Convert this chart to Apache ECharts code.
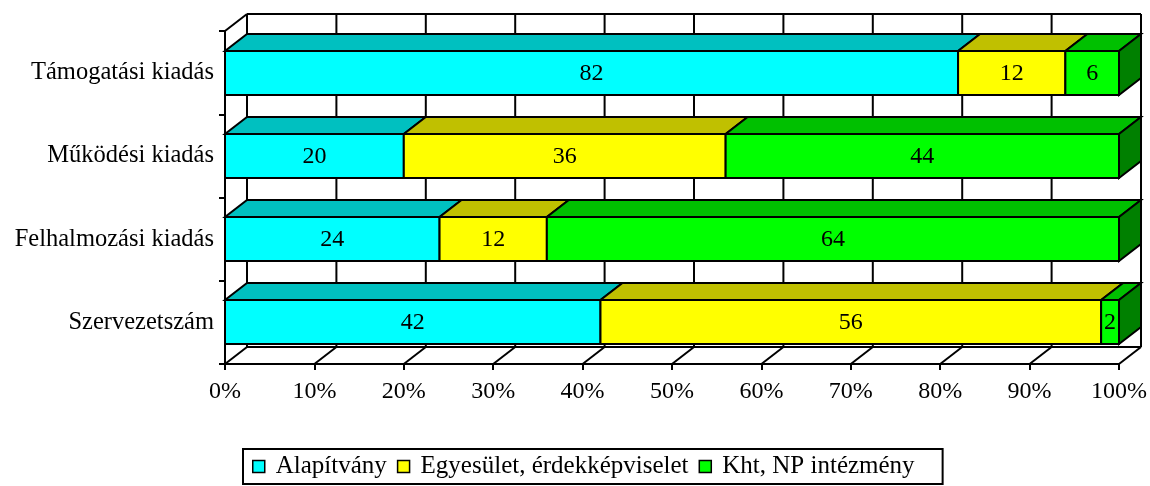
<!DOCTYPE html>
<html>
<head>
<meta charset="utf-8">
<script src="https://cdn.jsdelivr.net/npm/echarts@6/dist/echarts.min.js"></script>
<style>
html,body{margin:0;padding:0;background:#fff;}
#chart{width:1150px;height:486px;}
</style>
</head>
<body>
<div id="chart"></div>
<script>
// ---- data ----
const categories = ['Támogatási kiadás', 'Működési kiadás', 'Felhalmozási kiadás', 'Szervezetszám'];
const seriesNames = ['Alapítvány', 'Egyesület, érdekképviselet', 'Kht, NP intézmény'];
const alapitvany = [82, 20, 24, 42];
const egyesulet = [12, 36, 12, 56];
const kht = [6, 44, 64, 2];
const xTickValues = [0, 10, 20, 30, 40, 50, 60, 70, 80, 90, 100];

// ---- styles ----
const FONT = '"Liberation Serif", "Times New Roman", serif';
const DX = 22, DY = -17, BAR_RATIO = 0.53;
const faceColors = [
  { front: '#00FFFF', top: '#00C0C0', side: '#008080' },
  { front: '#FFFF00', top: '#C0C000', side: '#808000' },
  { front: '#00FF00', top: '#00C000', side: '#008000' }
];
const EDGE = { stroke: '#000', lineWidth: 2, lineJoin: 'miter' };

const valueSets = [alapitvany, egyesulet, kht];

function buildSegments(k) {
  return categories.map((c, i) => {
    let start = 0;
    for (let j = 0; j < k; j++) start += valueSets[j][i];
    return [i, start, start + valueSets[k][i], valueSets[k][i]];
  });
}

function makeRender(k) {
  const col = faceColors[k];
  return function (params, api) {
    const cat = api.value(0), s = api.value(1), e = api.value(2), v = api.value(3);
    const p0 = api.coord([s, cat]);
    const p1 = api.coord([e, cat]);
    const h = Math.round(api.size([0, 1])[1] * BAR_RATIO);
    const y0 = Math.round(p0[1] - h / 2), y1 = y0 + h, x0 = p0[0], x1 = p1[0];
    const children = [
      { type: 'polygon', shape: { points: [[x0, y0], [x1, y0], [x1 + DX, y0 + DY], [x0 + DX, y0 + DY]] },
        style: Object.assign({ fill: col.top }, EDGE) },
      { type: 'rect', shape: { x: x0, y: y0, width: x1 - x0, height: h },
        style: Object.assign({ fill: col.front }, EDGE) }
    ];
    if (e >= 99.999) {
      children.push({ type: 'polygon', shape: { points: [[x1, y0], [x1 + DX, y0 + DY], [x1 + DX, y1 + DY], [x1, y1]] },
        style: Object.assign({ fill: col.side }, EDGE) });
    }
    children.push({ type: 'text', x: (x0 + x1) / 2, y: (y0 + y1) / 2 + 1,
      style: { text: String(v), font: '24px ' + FONT, fill: '#000', align: 'center', verticalAlign: 'middle' } });
    return { type: 'group', children: children };
  };
}

function renderWalls(params, api) {
  const cs = params.coordSys;
  const x = api.coord([api.value(0), 0])[0];
  const gTop = cs.y, gBot = cs.y + cs.height, gLeft = cs.x, gRight = cs.x + cs.width;
  const children = [
    { type: 'line', shape: { x1: x + DX, y1: gTop + DY, x2: x + DX, y2: gBot + DY }, style: EDGE },
    { type: 'line', shape: { x1: x, y1: gBot, x2: x + DX, y2: gBot + DY }, style: EDGE }
  ];
  if (params.dataIndex === 0) {
    children.push({ type: 'line', shape: { x1: gLeft + DX, y1: gTop + DY, x2: gRight + DX, y2: gTop + DY }, style: EDGE });
    children.push({ type: 'line', shape: { x1: gLeft + DX, y1: gBot + DY, x2: gRight + DX, y2: gBot + DY }, style: EDGE });
    children.push({ type: 'line', shape: { x1: gLeft, y1: gTop, x2: gLeft + DX, y2: gTop + DY }, style: EDGE });
  }
  return { type: 'group', children: children };
}

const chart = echarts.init(document.getElementById('chart'), null, { renderer: 'canvas' });

const series = [{
  type: 'custom', name: '_walls', z: 1, silent: true,
  renderItem: renderWalls,
  encode: { x: 0, y: 1 },
  data: xTickValues.map(v => [v, 0])
}];
for (let k = 0; k < 3; k++) {
  series.push({
    type: 'custom', name: seriesNames[k], z: 2,
    renderItem: makeRender(k),
    itemStyle: { color: faceColors[k].front },
    encode: { x: [1, 2], y: 0 },
    data: buildSegments(k)
  });
}

chart.setOption({
  animation: false,
  backgroundColor: '#fff',
  textStyle: { fontFamily: FONT, color: '#000' },
  grid: { left: 225, right: 30, top: 31, bottom: 122, containLabel: false },
  xAxis: {
    type: 'value', min: 0, max: 100, interval: 10,
    axisLine: { show: true, lineStyle: { color: '#000', width: 2 } },
    axisTick: { show: true, length: 6, lineStyle: { color: '#000', width: 2 } },
    axisLabel: { formatter: '{value}%', fontSize: 24, fontFamily: FONT, color: '#000', margin: 16 },
    splitLine: { show: false }
  },
  yAxis: {
    type: 'category', data: categories, inverse: true,
    axisLine: { show: true, lineStyle: { color: '#000', width: 2 } },
    axisTick: { show: true, length: 6, lineStyle: { color: '#000', width: 2 } },
    axisLabel: { fontSize: 24.5, fontFamily: FONT, color: '#000', margin: 11 },
    splitLine: { show: false }
  },
  legend: {
    data: seriesNames,
    left: 243, top: 449,
    orient: 'horizontal',
    padding: [5, 28, 5, 9],
    itemGap: 10,
    itemWidth: 12, itemHeight: 12,
    icon: 'rect',
    itemStyle: { borderColor: '#000', borderWidth: 1.5 },
    borderColor: '#000', borderWidth: 2,
    textStyle: { fontSize: 25, fontFamily: FONT, color: '#000', lineHeight: 25, padding: [0, 0, 0, 6] }
  },
  series: series
});
</script>
</body>
</html>
